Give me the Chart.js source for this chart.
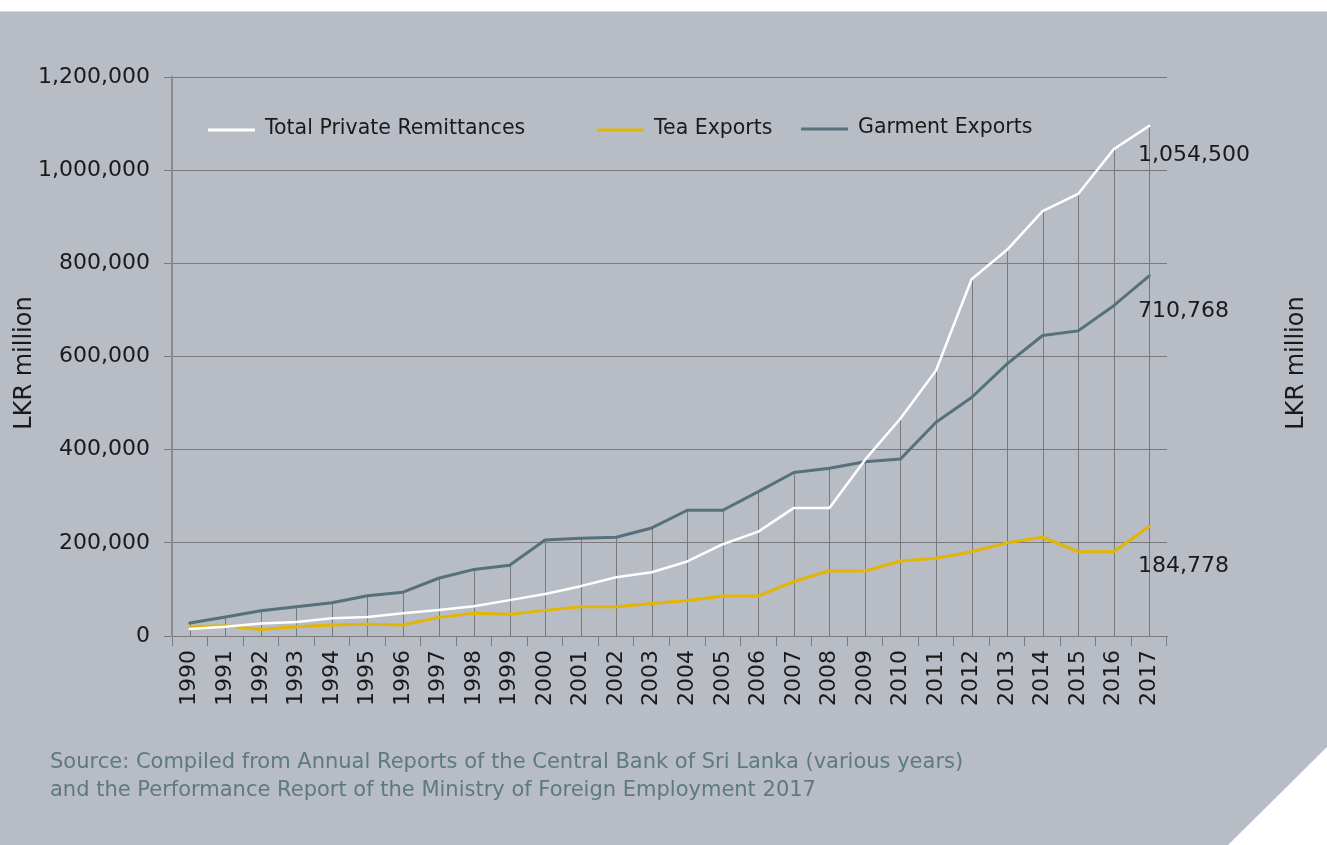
<!DOCTYPE html>
<html>
<head>
<meta charset="utf-8">
<script src="https://cdn.jsdelivr.net/npm/chart.js@4.4.1/dist/chart.umd.min.js"></script>
<style>
  html, body { margin: 0; padding: 0; background: #fff; width: 1327px; height: 845px; overflow: hidden; }
  .bg {
    position: absolute; left: 0; top: 11px; width: 1327px; height: 834px;
    background: #b8bcc4; border-top: 1px solid #d6d8dc; box-sizing: border-box;
    clip-path: polygon(0 0, 100% 0, 100% 736px, 1228px 100%, 0 100%);
  }
  #wrap { position: absolute; left: 0; top: 0; width: 1327px; height: 845px; }
  .source {
    position: absolute; left: 50px; top: 747px;
    font-family: 'DejaVu Sans', sans-serif; font-size: 21px; line-height: 28px;
    color: #5d7a82; white-space: nowrap;
  }
</style>
</head>
<body>
<div class="bg"></div>
<div id="wrap"><canvas id="chart" width="1327" height="845"></canvas></div>
<div class="source">Source: Compiled from Annual Reports of the Central Bank of Sri Lanka (various years)<br>and the Performance Report of the Ministry of Foreign Employment 2017</div>
<script>
const years = ['1990','1991','1992','1993','1994','1995','1996','1997','1998','1999',
  '2000','2001','2002','2003','2004','2005','2006','2007','2008','2009',
  '2010','2011','2012','2013','2014','2015','2016','2017'];

// LKR million
const remittances = [15000, 20000, 27000, 30000, 38000, 41000, 49000, 56000, 64000, 77000,
  90000, 107000, 126000, 137000, 160000, 197000, 224000, 275000, 275000, 378000,
  467000, 570000, 766000, 829000, 912000, 949000, 1045000, 1095000];
const teaExports = [20000, 22000, 14000, 20000, 23600, 25000, 23600, 40000, 49000, 46500,
  55000, 63000, 63000, 70000, 76000, 86000, 86000, 117000, 140000, 139500,
  161000, 167000, 181000, 200000, 212000, 181000, 181000, 235000];
const garmentExports = [28000, 41000, 54000, 63000, 71500, 86500, 94000, 124000, 143000, 152000,
  206000, 210000, 212000, 232000, 270000, 270000, 310000, 351000, 360000, 374000,
  380000, 459000, 512000, 584000, 645000, 655000, 709000, 773000];

const seriesNames = ['Total Private Remittances', 'Tea Exports', 'Garment Exports'];
const endLabels = ['1,054,500', '710,768', '184,778'];
const axisTitle = 'LKR million';

const FONT = "'DejaVu Sans', sans-serif";
const INK = '#1a1a1a';
const GRID = '#7a7a7a';

// vertical drop lines from the highest point of each year down to the axis
const dropLines = {
  id: 'dropLines',
  beforeDatasetsDraw(chart) {
    const { ctx, scales: { x, y } } = chart;
    const base = y.getPixelForValue(0);
    ctx.save();
    ctx.strokeStyle = GRID;
    ctx.lineWidth = 1;
    years.forEach((_, i) => {
      const top = Math.max(...chart.data.datasets.map(d => d.data[i]));
      const px = Math.round(x.getPixelForValue(i)) + 0.5;
      ctx.beginPath();
      ctx.moveTo(px, y.getPixelForValue(top));
      ctx.lineTo(px, base);
      ctx.stroke();
    });
    ctx.restore();
  }
};

// legend drawn inside the plot, items spaced as in the original
const legendSpots = [[208, 130], [597, 130], [801, 129]];
const insideLegend = {
  id: 'insideLegend',
  afterDraw(chart) {
    const { ctx } = chart;
    ctx.save();
    ctx.font = '20.5px ' + FONT;
    ctx.textBaseline = 'middle';
    chart.data.datasets.forEach((ds, i) => {
      const [lx, ly] = legendSpots[i];
      ctx.strokeStyle = ds.borderColor;
      ctx.lineWidth = 3;
      ctx.beginPath();
      ctx.moveTo(lx, ly);
      ctx.lineTo(lx + 47, ly);
      ctx.stroke();
      ctx.fillStyle = INK;
      ctx.fillText(ds.label, lx + 57, ly - 1);
    });
    ctx.restore();
  }
};

// end-value notes and the two axis titles
const notes = {
  id: 'notes',
  afterDraw(chart) {
    const { ctx, chartArea } = chart;
    ctx.save();
    ctx.fillStyle = INK;
    ctx.font = '22px ' + FONT;
    ctx.textBaseline = 'alphabetic';
    const ys = [161, 317, 572];
    endLabels.forEach((t, i) => ctx.fillText(t, chartArea.right - 29, ys[i]));
    ctx.font = '24px ' + FONT;
    ctx.textAlign = 'center';
    ctx.textBaseline = 'middle';
    [25, 1297].forEach(cx => {
      ctx.save();
      ctx.translate(cx, 363);
      ctx.rotate(-Math.PI / 2);
      ctx.fillText(axisTitle, 0, 0);
      ctx.restore();
    });
    ctx.restore();
  }
};

new Chart(document.getElementById('chart'), {
  type: 'line',
  data: {
    labels: years,
    datasets: [
      { label: seriesNames[0], data: remittances, borderColor: '#ffffff', borderWidth: 2.5 },
      { label: seriesNames[1], data: teaExports, borderColor: '#e3b505', borderWidth: 3 },
      { label: seriesNames[2], data: garmentExports, borderColor: '#56717a', borderWidth: 3 }
    ]
  },
  options: {
    responsive: false,
    animation: false,
    devicePixelRatio: 1,
    layout: { padding: { top: 77, right: 160, bottom: 0, left: 0 } },
    elements: {
      point: { radius: 0, hoverRadius: 0 },
      line: { tension: 0, borderJoinStyle: 'round', borderCapStyle: 'round' }
    },
    plugins: {
      legend: { display: false },
      tooltip: { enabled: false }
    },
    scales: {
      x: {
        offset: true,
        grid: { offset: true, drawOnChartArea: false, drawTicks: true, tickLength: 10, color: GRID },
        border: { display: true, color: GRID },
        ticks: {
          color: INK, font: { family: FONT, size: 22 },
          minRotation: 90, maxRotation: 90, autoSkip: false, padding: 4
        },
        afterFit(scale) { scale.height = 209; }
      },
      y: {
        min: 0, max: 1200000,
        ticks: { stepSize: 200000, color: INK, font: { family: FONT, size: 22 }, padding: 14 },
        grid: { color: GRID, tickLength: 8 },
        border: { display: true, color: '#8c8c8c', width: 2 },
        afterFit(scale) { scale.width = 172; }
      }
    }
  },
  plugins: [dropLines, insideLegend, notes]
});
</script>
</body>
</html>
